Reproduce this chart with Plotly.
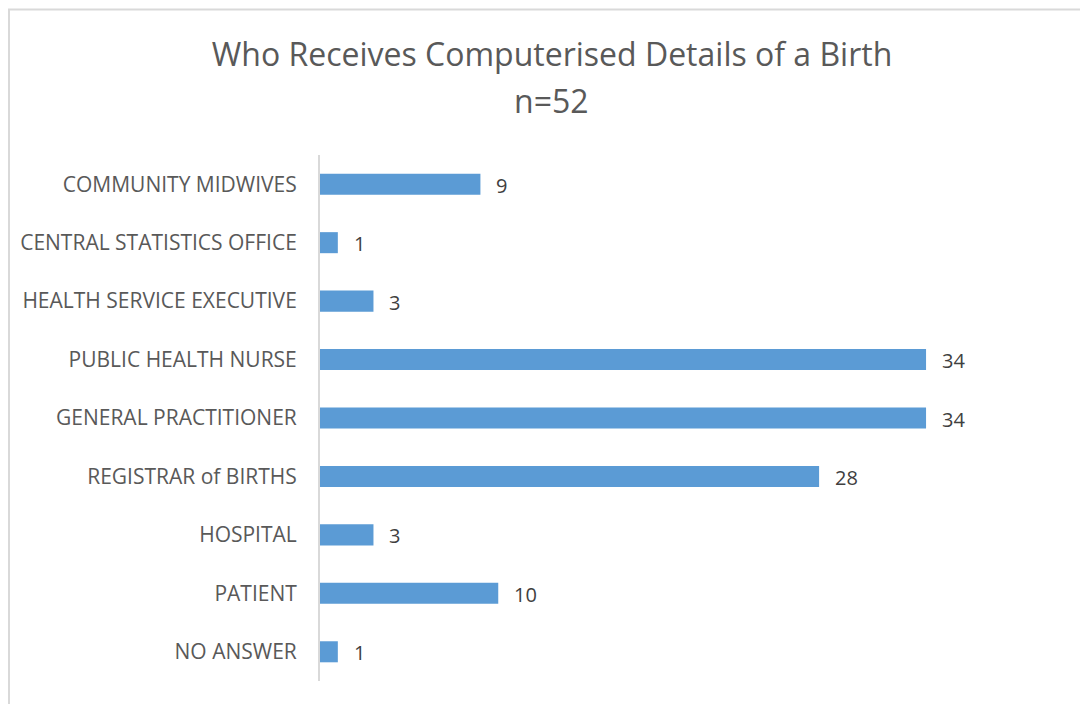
import plotly.graph_objects as go

# categories from top to bottom as shown
categories = [
    "COMMUNITY MIDWIVES",
    "CENTRAL STATISTICS OFFICE",
    "HEALTH SERVICE EXECUTIVE",
    "PUBLIC HEALTH NURSE",
    "GENERAL PRACTITIONER",
    "REGISTRAR of BIRTHS",
    "HOSPITAL",
    "PATIENT",
    "NO ANSWER",
]
counts = [9, 1, 3, 34, 34, 28, 3, 10, 1]

# page has an 8px body margin, so offsets below are in figure coordinates
W, H = 1088, 704
m_l, m_r, m_t, m_b = 312, 63, 147, 31
ph = H - m_t - m_b
pw = W - m_l - m_r

fig = go.Figure()
fig.add_trace(go.Bar(
    x=counts,
    y=categories,
    orientation="h",
    marker=dict(color="#5B9BD5", line=dict(width=0)),
    width=0.36,
    cliponaxis=False,
    hoverinfo="x+y",
))

# value labels to the right of each bar
for c, v in zip(categories, counts):
    fig.add_annotation(
        x=v, y=c, text=str(v),
        xanchor="left", xshift=14, yshift=-1,
        showarrow=False,
        font=dict(size=20, color="#404040", family="Open Sans"),
    )

# second title line, centred on the whole figure
fig.add_annotation(
    text="n=52",
    xref="paper", yref="paper",
    x=(W / 2 - 1 - m_l) / pw, xanchor="center",
    y=(H - m_b - 92) / ph, yanchor="middle",
    showarrow=False,
    font=dict(size=32, color="#595959", family="Open Sans"),
)

fig.update_layout(
    width=W,
    height=H,
    margin=dict(l=m_l, r=m_r, t=m_t, b=m_b, autoexpand=False),
    paper_bgcolor="white",
    plot_bgcolor="white",
    showlegend=False,
    title=dict(
        text="Who Receives Computerised Details of a Birth",
        x=0.5,
        xanchor="center",
        y=1 - 47 / H,
        yanchor="middle",
        font=dict(size=32, color="#595959", family="Open Sans"),
    ),
    xaxis=dict(
        range=[0, 40],
        showgrid=False,
        zeroline=False,
        showticklabels=False,
        showline=False,
        automargin=False,
    ),
    yaxis=dict(
        autorange="reversed",
        showgrid=False,
        zeroline=False,
        showline=True,
        linecolor="#d9d9d9",
        linewidth=2,
        ticks="",
        ticklabelstandoff=17,
        automargin=False,
        tickfont=dict(size=21, color="#595959", family="Open Sans"),
    ),
)

# outer chart border (only left and top edges fall inside the window)
fig.add_shape(
    type="rect",
    xref="paper", yref="paper",
    x0=(1 - m_l) / pw, x1=1.3,
    y0=-0.2, y1=(H - m_b - 1.5) / ph,
    line=dict(color="#d9d9d9", width=2),
    layer="below",
)

fig.write_html("out.html")
